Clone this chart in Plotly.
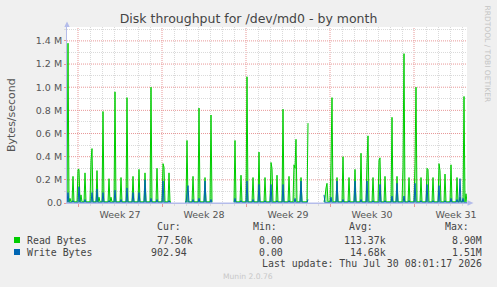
import plotly.graph_objects as go
import pandas as pd

# ---------------- data ----------------
ORIGIN = pd.Timestamp("2026-06-28 00:00")   # hour 0 of the arrays below
RANGE_HOURS = (2, 802)                        # visible window, hours from ORIGIN
STEP_HOURS = 2                                # munin monthly resolution

# Read Bytes: spike times (hours from ORIGIN) and spike heights (MB/s)
read_peak_hour = [4, 8, 14, 24, 26, 30, 38, 50, 52, 62, 66, 74, 86, 90, 98, 110,
                  122, 134, 146, 158, 170, 182, 194, 196, 206,
                  242, 254, 266, 278, 290,
                  338, 350, 362, 374, 386, 398, 410, 412, 422, 434, 446,
                  456, 458, 460, 470, 484,
                  518, 520, 522, 530, 532, 542, 554, 566, 578, 590, 602, 604,
                  614, 626, 628, 638, 652, 662, 674, 676, 686, 698, 700, 710,
                  722, 724, 734, 746, 748, 758, 770, 782, 788, 796, 800]
read_peak_mb = [1.38, 0.04, 0.23, 0.29, 0.29, 0.07, 0.26, 0.37, 0.47, 0.28, 0.05,
                0.79, 0.21, 0.05, 0.96, 0.22,
                0.91, 0.23, 0.29, 0.26, 1.00, 0.30, 0.34, 0.31, 0.26,
                0.54, 0.23, 0.82, 0.22, 0.76,
                0.54, 0.24, 1.09, 0.22, 0.44, 0.22, 0.35, 0.30, 0.24, 0.81, 0.23,
                0.33, 0.30, 0.55, 0.22, 0.69,
                0.05, 0.13, 0.17, 0.35, 0.91, 0.22, 0.40, 0.22, 0.29, 0.43, 0.35, 0.58,
                0.22, 0.37, 0.39, 0.23, 0.74, 0.23, 0.31, 1.29, 0.22, 0.34, 1.00, 0.22,
                0.30, 0.29, 0.22, 0.34, 0.28, 0.25, 0.33, 0.22, 0.05, 0.92, 0.08]

# Write Bytes: spike times and heights (MB/s)
write_peak_hour = [4, 14, 26, 38, 52, 62, 74, 86, 98, 110, 122, 134, 146, 158,
                   170, 182, 194, 206,
                   242, 244, 254, 266, 278, 290,
                   338, 350, 362, 374, 386, 398, 410, 422, 434, 446, 458, 470, 484,
                   516, 530, 542, 554, 566, 578, 590, 602, 614, 628, 638, 652,
                   662, 676, 686, 698, 710, 722, 734, 746, 758, 770, 782, 788, 794]
write_peak_mb = [0.09, 0.02, 0.14, 0.03, 0.09, 0.12, 0.09, 0.02, 0.11, 0.03, 0.13,
                 0.09, 0.09, 0.20, 0.04, 0.03, 0.19, 0.02,
                 0.08, 0.15, 0.03, 0.04, 0.19, 0.03,
                 0.04, 0.02, 0.19, 0.03, 0.16, 0.02, 0.16, 0.02, 0.16, 0.02, 0.04, 0.19, 0.03,
                 0.07, 0.05, 0.19, 0.03, 0.02, 0.19, 0.03, 0.19, 0.02, 0.16, 0.02, 0.06,
                 0.17, 0.06, 0.02, 0.17, 0.02, 0.16, 0.02, 0.15, 0.02, 0.04, 0.03, 0.21, 0.04]

# quiet level between spikes (MB/s) and periods with no data (hours)
read_quiet_mb = 0.010
write_quiet_mb = 0.004
no_data_hours = [(212, 236), (294, 334), (486, 514)]

# axis labels
y_tick_mb = [0.0, 0.2, 0.4, 0.6, 0.8, 1.0, 1.2, 1.4]
y_tick_text = ["0.0", "0.2 M", "0.4 M", "0.6 M", "0.8 M", "1.0 M", "1.2 M", "1.4 M"]
y_minor_mb = [0.1, 0.3, 0.5, 0.7, 0.9, 1.1, 1.3, 1.5]
week_starts = ["2026-06-29", "2026-07-06", "2026-07-13", "2026-07-20", "2026-07-27"]
week_labels = ["Week 27", "Week 28", "Week 29", "Week 30", "Week 31"]

# legend table
stat_headers = ["Cur:", "Min:", "Avg:", "Max:"]
series_names = ["Read Bytes", "Write Bytes"]
read_stats = ["77.50k", "0.00", "113.37k", "8.90M"]
write_stats = ["902.94", "0.00", "14.68k", "1.51M"]
last_update = "Last update: Thu Jul 30 08:01:17 2026"
munin_version = "Munin 2.0.76"

# ---------------- styling ----------------
GREEN = "#00CC00"
BLUE = "#0066B3"
AXIS = "#b4bcea"
GRID_MINOR = "#dadada"
GRID_MAJOR = "#e89898"
TXT = "#555555"
W, H = 497, 287
ML, MR, MT, MB = 67, 30, 27, 84
PW, PH = W - ML - MR, H - MT - MB


def segments(peak_hour, peak_mb, quiet):
    """Return contiguous (x, y) runs of the 2-hourly series, split at no-data periods."""
    hours = list(range(RANGE_HOURS[0], RANGE_HOURS[1] + 1, STEP_HOURS))
    vals = {}
    for h in hours:
        missing = any(a <= h <= b for a, b in no_data_hours)
        vals[h] = None if missing else quiet
    for h, v in zip(peak_hour, peak_mb):
        vals[h] = v
    runs, cur = [], ([], [])
    for h in hours:
        if vals[h] is None:
            if cur[0]:
                runs.append(cur)
            cur = ([], [])
        else:
            cur[0].append(ORIGIN + pd.Timedelta(hours=h))
            cur[1].append(vals[h] * 1e6)
    if cur[0]:
        runs.append(cur)
    return runs


fig = go.Figure()
for name, ph, pv, q, col, fc in [
    (series_names[0], read_peak_hour, read_peak_mb, read_quiet_mb, GREEN, "rgba(0,204,0,0.35)"),
    (series_names[1], write_peak_hour, write_peak_mb, write_quiet_mb, BLUE, "rgba(0,102,179,0.35)"),
]:
    for xs, ys in segments(ph, pv, q):
        fig.add_trace(go.Scatter(x=xs, y=ys, mode="lines", name=name, legendgroup=name,
                                 line=dict(color=col, width=1),
                                 fill="tozeroy", fillcolor=fc, hoverinfo="skip"))


def pxx(x):
    return (x - ML) / PW


def pxy(y):
    return (MT + PH - y) / PH


x0 = ORIGIN + pd.Timedelta(hours=RANGE_HOURS[0])
x1 = ORIGIN + pd.Timedelta(hours=RANGE_HOURS[1])
# daily grid lines that are not week starts
day_lines = [d for d in pd.date_range("2026-06-28", "2026-07-31", freq="D")
             if d.strftime("%Y-%m-%d") not in week_starts]

fig.update_layout(
    width=W, height=H,
    margin=dict(l=ML, r=MR, t=MT, b=MB, autoexpand=False),
    paper_bgcolor="#f0f0f0", plot_bgcolor="#ffffff",
    showlegend=False,
    font=dict(family="DejaVu Sans", color=TXT),
    title=dict(text="Disk throughput for /dev/md0 - by month",
               x=0.5, xref="container", xanchor="center",
               y=1 - 19 / H, yanchor="middle",
               font=dict(family="DejaVu Sans", size=12.5, color="#444444")),
    xaxis=dict(type="date", range=[x0, x1],
               tickmode="array", tickvals=week_starts, ticktext=week_labels,
               ticklabelshift=42,
               tickfont=dict(size=9.5, color=TXT),
               ticks="outside", ticklen=3, tickcolor=GRID_MAJOR,
               showgrid=False,
               minor=dict(tickmode="array", tickvals=day_lines,
                          showgrid=True, gridcolor=GRID_MINOR, griddash="1px,1px",
                          ticks="outside", ticklen=2, tickcolor=GRID_MINOR),
               showline=True, linecolor=AXIS, linewidth=1,
               zeroline=False, fixedrange=True),
    yaxis=dict(range=[0, 1.52e6],
               tickmode="array", tickvals=[v * 1e6 for v in y_tick_mb], ticktext=y_tick_text,
               tickfont=dict(size=9.5, color=TXT),
               ticks="outside", ticklen=2, tickcolor=GRID_MAJOR,
               showgrid=False,
               minor=dict(tickmode="array", tickvals=[v * 1e6 for v in y_minor_mb],
                          showgrid=True, gridcolor=GRID_MINOR, griddash="1px,1px",
                          ticks="outside", ticklen=2, tickcolor=GRID_MINOR),
               showline=True, linecolor=AXIS, linewidth=1,
               zeroline=False, fixedrange=True),
)

shapes = []
# major grid (week starts, every 0.2 M) in the rrdtool reddish dotted style
for ws in week_starts:
    shapes.append(dict(type="line", layer="below", xref="x", yref="paper",
                       x0=ws, x1=ws, y0=0, y1=1,
                       line=dict(color=GRID_MAJOR, width=1, dash="1px,1px")))
for v in y_tick_mb[1:]:
    shapes.append(dict(type="line", layer="below", xref="paper", yref="y",
                       x0=0, x1=1, y0=v * 1e6, y1=v * 1e6,
                       line=dict(color=GRID_MAJOR, width=1, dash="1px,1px")))
# axis arrows (decoration)
shapes += [
    dict(type="path", xref="paper", yref="paper", line=dict(width=0), fillcolor=AXIS,
         path=f"M {pxx(64.3)} {pxy(27)} L {pxx(69.7)} {pxy(27)} L {pxx(67)} {pxy(21.5)} Z"),
    dict(type="line", xref="paper", yref="paper", line=dict(color=AXIS, width=1),
         x0=0, x1=pxx(470), y0=0, y1=0),
    dict(type="path", xref="paper", yref="paper", line=dict(width=0), fillcolor=AXIS,
         path=f"M {pxx(467.5)} {pxy(200.3)} L {pxx(467.5)} {pxy(205.7)} L {pxx(473.5)} {pxy(203)} Z"),
    # legend colour boxes
    dict(type="rect", xref="paper", yref="paper", line=dict(width=0), fillcolor=GREEN,
         x0=pxx(14), x1=pxx(20), y0=pxy(243), y1=pxy(237)),
    dict(type="rect", xref="paper", yref="paper", line=dict(width=0), fillcolor=BLUE,
         x0=pxx(14), x1=pxx(20), y0=pxy(255), y1=pxy(249)),
]
fig.update_layout(shapes=shapes)

MONO = dict(family="DejaVu Sans Mono", size=9.9, color="#444444")
ann = []


def text(t, x, y, xanchor="left", font=MONO, angle=0):
    ann.append(dict(text=t, x=pxx(x), y=pxy(y), xref="paper", yref="paper",
                    xanchor=xanchor, yanchor="middle", showarrow=False,
                    font=font, textangle=angle, borderpad=0))


header_right = [182, 278, 374, 470]
value_right = [[194, 284, 387, 483], [188, 284, 387, 483]]
for h, xr in zip(stat_headers, header_right):
    text(h, xr, 227, "right")
for row, (name, stats, y) in enumerate(zip(series_names, [read_stats, write_stats], [240, 252])):
    text(name, 26, y, "left")
    for s, xr in zip(stats, value_right[row]):
        text(s, xr, y, "right")
text(last_update, 483, 263.5, "right")
text(munin_version, 248, 276, "center",
     font=dict(family="DejaVu Sans", size=7.6, color="#c8c8c8"))
text("Bytes/second", 11, 115, "center",
     font=dict(family="DejaVu Sans", size=11, color=TXT), angle=-90)
text("RRDTOOL / TOBI OETIKER", 487.5, 54, "center",
     font=dict(family="DejaVu Sans", size=7.5, color="#c4c4c4"), angle=90)
fig.update_layout(annotations=ann)

fig.write_html("out.html")
